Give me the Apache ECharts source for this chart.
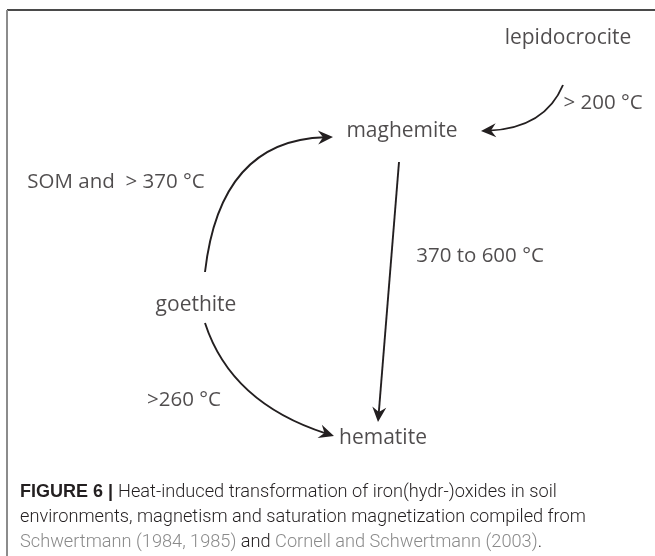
<!DOCTYPE html>
<html>
<head>
<meta charset="utf-8">
<script src="https://cdn.jsdelivr.net/npm/echarts@6/dist/echarts.min.js"></script>
<style>
  html, body { margin: 0; padding: 0; background: #fff; }
  #main { width: 655px; height: 556px; }
</style>
</head>
<body>
<div id="main"></div>
<script>
// minerals (nodes) of the diagram, in page coordinates (y grows downward)
var nodeNames = ['lepidocrocite', 'maghemite', 'goethite', 'hematite'];
var nodeX = [568, 402, 196, 383];
var nodeY = [38, 131, 305, 438];

// transformation conditions written next to the arrows
var condNames = ['> 200 °C', 'SOM and  > 370 °C', '370 to 600 °C', '>260 °C'];
var condX = [603, 116, 480, 184];
var condY = [103, 182, 256, 400];

// arrows: start, bend (control point) and end
var arrowStart = [[563, 85], [205, 272], [205, 323], [399, 162]];
var arrowBend  = [[545, 128], [220, 140], [231, 403], [389, 292]];
var arrowEnd   = [[481, 131], [333, 137], [334, 436], [378, 422]];

var ink = '#231f20';

var myChart = echarts.init(document.getElementById('main'));

var nodeData = [];
for (var i = 0; i < nodeNames.length; i++) {
    nodeData.push({ name: nodeNames[i], value: [nodeX[i], nodeY[i]] });
}
var condData = [];
for (var i = 0; i < condNames.length; i++) {
    condData.push({ name: condNames[i], value: [condX[i], condY[i]] });
}
var arrowData = [];
for (var i = 0; i < arrowStart.length; i++) {
    arrowData.push([arrowStart[i][0], arrowStart[i][1], arrowBend[i][0], arrowBend[i][1], arrowEnd[i][0], arrowEnd[i][1]]);
}

function drawArrow(params, api) {
    var s = api.coord([api.value(0), api.value(1)]);
    var c = api.coord([api.value(2), api.value(3)]);
    var e = api.coord([api.value(4), api.value(5)]);
    var dx = e[0] - c[0], dy = e[1] - c[1];
    var len = Math.sqrt(dx * dx + dy * dy);
    dx /= len; dy /= len;
    var px = -dy, py = dx;
    var L = 15, W = 7, N = 10; // arrow head length, half width, notch depth
    var notch = [e[0] - dx * N, e[1] - dy * N];
    return {
        type: 'group',
        children: [
            {
                type: 'bezierCurve',
                shape: { x1: s[0], y1: s[1], cpx1: c[0], cpy1: c[1], x2: notch[0] + dx * 2, y2: notch[1] + dy * 2 },
                style: { stroke: ink, lineWidth: 1.9, fill: null }
            },
            {
                type: 'polygon',
                shape: {
                    points: [
                        e,
                        [e[0] - dx * L + px * W, e[1] - dy * L + py * W],
                        notch,
                        [e[0] - dx * L - px * W, e[1] - dy * L - py * W]
                    ]
                },
                style: { fill: ink }
            }
        ]
    };
}

var option = {
    backgroundColor: '#fff',
    animation: false,
    grid: { left: 0, right: 0, top: 0, bottom: 0 },
    xAxis: { type: 'value', min: 0, max: 655, show: false },
    yAxis: { type: 'value', min: 0, max: 556, inverse: true, show: false },
    title: {
        left: 15,
        top: 475,
        text: '{b|FIGURE 6 |} {n|Heat-induced transformation of iron(hydr-)oxides in soil}\n' +
              '{n|environments, magnetism and saturation magnetization compiled from}\n' +
              '{g|Schwertmann (1984, 1985)}{n| and }{g|Cornell and Schwertmann (2003)}{n|.}',
        textStyle: {
            rich: {
                b: { fontFamily: 'Liberation Sans', fontWeight: 'bold', fontSize: 18, color: '#231f20', lineHeight: 25 },
                n: { fontFamily: 'Roboto', fontWeight: 300, fontSize: 18.2, color: '#231f20', lineHeight: 25 },
                g: { fontFamily: 'Roboto', fontWeight: 300, fontSize: 18.2, color: '#8a8a8a', lineHeight: 25 }
            }
        }
    },
    graphic: [
        // frame of the figure panel
        { type: 'line', shape: { x1: 7, y1: 10, x2: 655, y2: 10 }, style: { stroke: '#4a4a4a', lineWidth: 2 } },
        { type: 'line', shape: { x1: 7, y1: 10, x2: 7, y2: 556 }, style: { stroke: '#8c8c8c', lineWidth: 2 } }
    ],
    series: [
        {
            type: 'custom',
            renderItem: drawArrow,
            encode: { x: [0, 2, 4], y: [1, 3, 5] },
            data: arrowData,
            silent: true
        },
        {
            type: 'scatter',
            data: nodeData,
            symbolSize: 1,
            itemStyle: { color: 'transparent' },
            label: {
                show: true, position: 'inside', formatter: '{b}',
                fontFamily: 'Open Sans', fontSize: 21, color: ink
            }
        },
        {
            type: 'scatter',
            data: condData,
            symbolSize: 1,
            itemStyle: { color: 'transparent' },
            label: {
                show: true, position: 'inside', formatter: '{b}',
                fontFamily: 'Open Sans', fontSize: 20.5, color: ink
            }
        }
    ]
};
myChart.setOption(option);
</script>
</body>
</html>
